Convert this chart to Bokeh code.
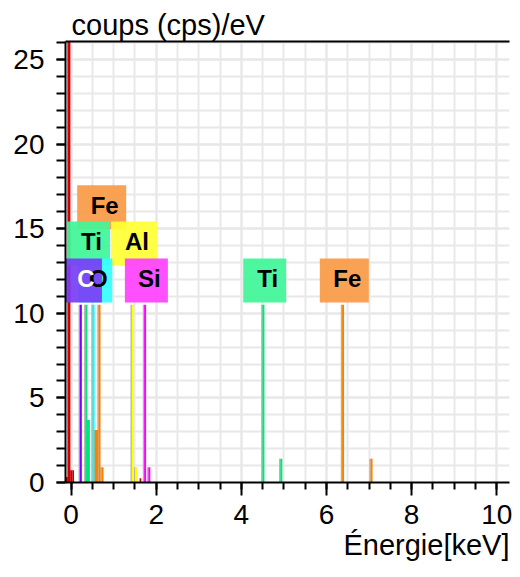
from bokeh.plotting import figure
from bokeh.models import (Range1d, SingleIntervalTicker, FixedTicker, LinearAxis,
                          Title, ColumnDataSource)
from bokeh.embed import file_html
from bokeh.resources import INLINE
from bokeh.core.properties import value

# ---------------- data ----------------
zero_peak_energy = [-0.05]
zero_peak_height = [30.0]

noise_energy = [-0.11, -0.07, -0.03, 0.01, 0.05, 1.63]
noise_height = [0.33, 0.33, 0.72, 0.72, 0.72, 0.25]

line_energy = [0.23, 0.36, 0.39, 0.42, 0.53, 0.58, 0.61, 0.67, 0.74,
               1.45, 1.53, 1.74, 1.84, 4.52, 4.94, 6.39, 7.06]
line_height = [10.5, 10.5, 3.7, 3.7, 10.5, 3.1, 3.1, 10.5, 0.9,
               10.5, 0.9, 10.5, 0.9, 10.5, 1.4, 10.5, 1.4]
line_element = ["C", "Ti", "Ti", "Ti", "O", "Fe", "Fe", "Fe", "Fe",
                "Al", "Al", "Si", "Si", "Ti", "Ti", "Fe", "Fe"]

label_text = ["Fe", "Ti", "Al", "O", "C", "Si", "Ti", "Fe"]
label_energy = [0.72, 0.41, 1.48, 0.57, 0.28, 1.77, 4.55, 6.42]
label_level = [16.26, 14.12, 14.12, 11.94, 11.94, 11.94, 11.94, 11.94]

x_ticks_interval = 2
y_ticks_interval = 5

# ---------------- styles ----------------
line_colors = {"C": "#8000ff", "O": "#00ffff", "Ti": "#00e67a",
               "Fe": "#ff8000", "Al": "#ffff00", "Si": "#ff00ff"}
box_colors = {"C": "#7a3df5", "O": "#33ffff", "Ti": "#40f598",
              "Fe": "#f99a45", "Al": "#ffff33", "Si": "#ff40ff"}
text_colors = {"C": "white"}
box_widths = {"C": 38, "O": 34, "Ti": 43, "Fe": 49, "Al": 46, "Si": 43}
FONT = "Liberation Sans"
GRID = "#e8e8e8"

p = figure(width=512, height=569, output_backend="svg", toolbar_location=None,
           x_range=Range1d(-0.13, 10.3), y_range=Range1d(0, 26.06),
           title=None,
           min_border_left=65, min_border_right=3, min_border_top=41,
           min_border_bottom=87)
p.outline_line_color = None
p.background_fill_color = "white"

# axes
xax = p.xaxis[0]
xax.ticker = SingleIntervalTicker(interval=x_ticks_interval, num_minor_ticks=4)
yax = p.yaxis[0]
yax.ticker = SingleIntervalTicker(interval=y_ticks_interval, num_minor_ticks=5)

for ax in (xax, yax):
    ax.axis_line_width = 2
    ax.axis_line_color = "black"
    ax.major_tick_line_width = 2
    ax.minor_tick_line_width = 2
    ax.major_tick_line_color = "black"
    ax.minor_tick_line_color = "black"
    ax.major_tick_in = 0
    ax.minor_tick_in = 0
    ax.major_label_text_font = FONT
    ax.major_label_text_font_size = "28px"
    ax.major_label_text_color = "black"

xax.major_tick_out = 13
xax.minor_tick_out = 7
xax.major_label_standoff = 9
yax.major_tick_out = 9
yax.minor_tick_out = 9
yax.major_label_standoff = 12

# grids
for g in (p.xgrid[0], p.ygrid[0]):
    g.grid_line_color = GRID
    g.grid_line_width = 2
    g.minor_grid_line_color = GRID
    g.minor_grid_line_width = 2

# top border line
top_axis = LinearAxis(ticker=FixedTicker(ticks=[]), axis_line_width=2,
                      axis_line_color="black", major_tick_line_color=None,
                      minor_tick_line_color=None,
                      major_label_text_font_size="0px")
p.add_layout(top_axis, "above")

p.add_layout(Title(text="coups (cps)/eV", align="left", offset=6, standoff=2,
                   text_font=FONT, text_font_size="29px",
                   text_font_style="normal", text_color="black"), "above")
p.add_layout(Title(text="Énergie[keV]", align="right", offset=0, standoff=0,
                   text_font=FONT, text_font_size="29px",
                   text_font_style="normal", text_color="black"), "below")

# noise / zero peak
p.vbar(x=noise_energy, top=noise_height, bottom=0, width=0.04,
       fill_color="#d00000", line_color=None)
p.segment(x0=zero_peak_energy, y0=[0] * len(zero_peak_energy),
          x1=zero_peak_energy, y1=zero_peak_height,
          line_color="#d00000", line_width=3)

# element marker lines (gray shadow + colored line)
shadow_x = [e - 0.035 for e in line_energy]
p.segment(x0=shadow_x, y0=[0] * len(line_energy), x1=shadow_x, y1=line_height,
          line_color="#b4b4b4", line_width=1.6)
lsrc = ColumnDataSource(dict(x=line_energy, y0=[0] * len(line_energy),
                             y1=line_height,
                             c=[line_colors[e] for e in line_element]))
p.segment(x0="x", y0="y0", x1="x", y1="y1", line_color="c", line_width=2,
          source=lsrc)

# label boxes
bsrc = ColumnDataSource(dict(x=label_energy, y=label_level, t=label_text,
                             w=[box_widths[t] for t in label_text],
                             fc=[box_colors[t] for t in label_text],
                             tc=[text_colors.get(t, "black") for t in label_text]))
p.rect(x="x", y="y", width="w", height=44, width_units="screen",
       height_units="screen", fill_color="fc", fill_alpha=0.92,
       line_color=None, source=bsrc)
p.text(x="x", y="y", text="t", x_offset=3, y_offset=-2, text_align="center",
       text_baseline="middle", text_font=value(FONT), text_font_style="bold",
       text_font_size="24px", text_color="tc", source=bsrc)

open("out.html", "w").write(file_html(p, INLINE))
